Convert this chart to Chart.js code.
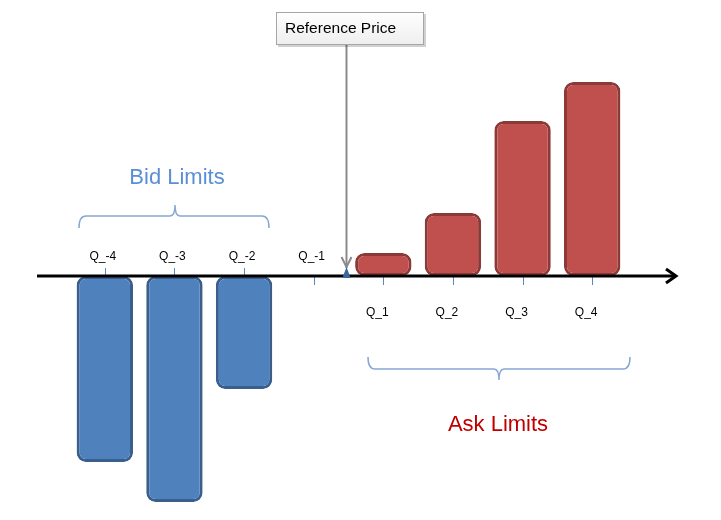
<!DOCTYPE html>
<html>
<head>
<meta charset="utf-8">
<script src="https://cdn.jsdelivr.net/npm/chart.js@4.4.1/dist/chart.umd.min.js"></script>
<style>
  html, body { margin: 0; padding: 0; background: #ffffff; }
  #wrap { width: 721px; height: 520px; position: relative; }
</style>
</head>
<body>
<div id="wrap"><canvas id="c" width="721" height="520"></canvas></div>
<script>
// ---- data ----
const categories = ['Q_-4', 'Q_-3', 'Q_-2', 'Q_-1', 'Q_1', 'Q_2', 'Q_3', 'Q_4'];
const bidValues = [-186, -226, -113, null, null, null, null, null];
const askValues = [null, null, null, null, 23, 63, 155, 194];
const bidLabel = 'Bid Limits';
const askLabel = 'Ask Limits';
const refLabel = 'Reference Price';

const annotate = {
  id: 'annotate',
  afterDatasetsDraw(chart) {
    const ctx = chart.ctx;
    const xs = chart.scales.x, ys = chart.scales.y;
    const y0 = ys.getPixelForValue(0);
    ctx.save();

    // tick marks
    ctx.strokeStyle = '#5b87c0';
    ctx.lineWidth = 1;
    categories.forEach((c, i) => {
      const x = Math.round(xs.getPixelForValue(i)) + 0.5;
      ctx.beginPath();
      if (bidValues[i] !== null) { ctx.moveTo(x, y0 - 8); ctx.lineTo(x, y0); }
      else { ctx.moveTo(x, y0); ctx.lineTo(x, y0 + 9); }
      ctx.stroke();
    });

    // axis line with arrow
    ctx.strokeStyle = '#000000';
    ctx.lineWidth = 3;
    ctx.beginPath();
    ctx.moveTo(37, y0); ctx.lineTo(676, y0);
    ctx.stroke();
    ctx.lineJoin = 'miter';
    ctx.beginPath();
    ctx.moveTo(666, y0 - 7); ctx.lineTo(676, y0); ctx.lineTo(666, y0 + 7);
    ctx.stroke();

    // category labels
    ctx.fillStyle = '#000000';
    ctx.font = '12px "Liberation Sans", Arial, sans-serif';
    ctx.textAlign = 'center';
    ctx.textBaseline = 'middle';
    categories.forEach((c, i) => {
      const x = xs.getPixelForValue(i);
      if (askValues[i] !== null) ctx.fillText(c, x - 6, y0 + 37);
      else ctx.fillText(c, x - 2, y0 - 19);
    });

    // reference price marker
    const xr = (xs.getPixelForValue(3) + xs.getPixelForValue(4)) / 2 - 2;
    ctx.strokeStyle = '#8a8a8a';
    ctx.lineWidth = 2;
    ctx.beginPath();
    ctx.moveTo(xr, 45); ctx.lineTo(xr, y0 - 8);
    ctx.stroke();
    ctx.beginPath();
    ctx.moveTo(xr - 5, y0 - 19); ctx.lineTo(xr, y0 - 9); ctx.lineTo(xr + 5, y0 - 19);
    ctx.stroke();
    ctx.fillStyle = '#3b6699';
    ctx.beginPath();
    ctx.moveTo(xr, y0 - 9);
    ctx.quadraticCurveTo(xr + 2, y0 - 4, xr + 4, y0 + 2);
    ctx.lineTo(xr - 4, y0 + 2);
    ctx.quadraticCurveTo(xr - 2, y0 - 4, xr, y0 - 9);
    ctx.fill();

    // reference price box
    ctx.fillStyle = 'rgba(0,0,0,0.18)';
    ctx.fillRect(278, 14, 148, 33);
    const g = ctx.createLinearGradient(0, 12, 0, 45);
    g.addColorStop(0, '#ffffff');
    g.addColorStop(1, '#eeeeee');
    ctx.fillStyle = g;
    ctx.fillRect(276, 12, 148, 33);
    ctx.strokeStyle = '#a6a6a6';
    ctx.lineWidth = 1;
    ctx.strokeRect(276.5, 12.5, 147, 32);
    ctx.fillStyle = '#000000';
    ctx.font = '15.5px "Liberation Sans", Arial, sans-serif';
    ctx.textAlign = 'left';
    ctx.fillText(refLabel, 285, 29);

    // braces
    ctx.strokeStyle = '#86a7d3';
    ctx.lineWidth = 1.5;
    ctx.beginPath();
    ctx.moveTo(79, 228);
    ctx.quadraticCurveTo(79, 216, 86, 216);
    ctx.lineTo(170, 216);
    ctx.quadraticCurveTo(175, 216, 175, 205);
    ctx.quadraticCurveTo(175, 216, 180, 216);
    ctx.lineTo(262, 216);
    ctx.quadraticCurveTo(269, 216, 269, 228);
    ctx.stroke();

    ctx.beginPath();
    ctx.moveTo(368, 357);
    ctx.quadraticCurveTo(368, 369, 375, 369);
    ctx.lineTo(494, 369);
    ctx.quadraticCurveTo(499, 369, 499, 380);
    ctx.quadraticCurveTo(499, 369, 504, 369);
    ctx.lineTo(623, 369);
    ctx.quadraticCurveTo(630, 369, 630, 357);
    ctx.stroke();

    // group titles
    ctx.font = '22px "Liberation Sans", Arial, sans-serif';
    ctx.textAlign = 'center';
    ctx.fillStyle = '#5a8fd6';
    ctx.fillText(bidLabel, 177, 178);
    ctx.fillStyle = '#c00000';
    ctx.fillText(askLabel, 498, 425);

    ctx.restore();
  }
};

new Chart(document.getElementById('c'), {
  type: 'bar',
  data: {
    labels: categories,
    datasets: [
      {
        label: 'Bid',
        data: bidValues,
        backgroundColor: '#4f81bd',
        borderColor: '#3a5f8d',
        borderWidth: 3,
        borderRadius: 9,
        borderSkipped: false,
        barPercentage: 0.81,
        categoryPercentage: 1.0
      },
      {
        label: 'Ask',
        data: askValues,
        backgroundColor: '#c0504d',
        borderColor: '#8c3a38',
        borderWidth: 3,
        borderRadius: 9,
        borderSkipped: false,
        barPercentage: 0.81,
        categoryPercentage: 1.0
      }
    ]
  },
  options: {
    responsive: false,
    animation: false,
    devicePixelRatio: 1,
    layout: { padding: { left: 70, right: 94, top: 76, bottom: 4 } },
    plugins: { legend: { display: false }, tooltip: { enabled: false } },
    scales: {
      x: { display: false, stacked: true },
      y: { display: false, stacked: true, min: -240, max: 200 }
    }
  },
  plugins: [annotate]
});
</script>
</body>
</html>
